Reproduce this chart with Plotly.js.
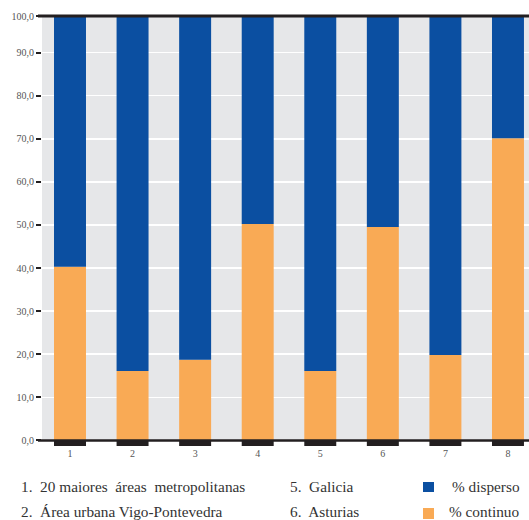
<!DOCTYPE html>
<html>
<head>
<meta charset="utf-8">
<script src="https://cdn.plot.ly/plotly-3.0.1.min.js"></script>
<style>html,body{margin:0;padding:0;background:#fff;}#chart{width:529px;height:520px;}</style>
</head>
<body>
<div id="chart"></div>
<script>
// Data
var categories = [1, 2, 3, 4, 5, 6, 7, 8];
var categoryLabels = ['1', '2', '3', '4', '5', '6', '7', '8'];
var continuo = [40.3, 16.1, 18.7, 50.2, 16.1, 49.5, 19.8, 70.1];
var disperso = [59.7, 83.9, 81.3, 49.8, 83.9, 50.5, 80.2, 29.9];
var baseStub = [-1.3, -1.3, -1.3, -1.3, -1.3, -1.3, -1.3, -1.3];
var yTickVals = [0, 10, 20, 30, 40, 50, 60, 70, 80, 90, 98.5];
var yTickText = ['0,0', '10,0', '20,0', '30,0', '40,0', '50,0', '60,0', '70,0', '80,0', '90,0', '100,0'];
var seriesNames = ['% disperso', '% continuo'];
var notes = ['1.  20 maiores  áreas  metropolitanas', '2.  Área urbana Vigo-Pontevedra', '5.  Galicia', '6.  Asturias'];

var BLUE = '#0b4fa1', ORANGE = '#f9aa55', DARK = '#231f20', BG = '#e6e7e9';
var FONT = 'Liberation Serif';

// pixel helpers for paper coords (plot area: x 42..529, y 16..446)
function px(x) { return (x - 42) / 487; }
function py(y) { return (446 - y) / 430; }

var traces = [
  { type: 'bar', x: categories, y: continuo, name: seriesNames[1], marker: { color: ORANGE }, width: 0.511, hoverinfo: 'y' },
  { type: 'bar', x: categories, y: disperso, name: seriesNames[0], marker: { color: BLUE }, width: 0.511, hoverinfo: 'y' },
  { type: 'bar', x: categories, y: baseStub, name: 'base', marker: { color: DARK }, width: 0.511, hoverinfo: 'skip' }
];

function note(text, x, y) {
  return { text: text, xref: 'paper', yref: 'paper', x: px(x), y: py(y), xanchor: 'left', yanchor: 'middle', showarrow: false, font: { family: FONT, size: 15.3, color: '#333333' } };
}

var layout = {
  width: 529, height: 520,
  margin: { l: 42, r: 0, t: 16, b: 74, pad: 0 },
  paper_bgcolor: '#ffffff',
  plot_bgcolor: '#ffffff',
  barmode: 'relative',
  showlegend: false,
  font: { family: FONT, color: '#333333' },
  xaxis: {
    range: [0.5525, 8.336],
    tickvals: categories, ticktext: categoryLabels,
    showgrid: false, zeroline: false, showline: false, ticks: '',
    tickfont: { family: FONT, size: 10, color: '#555555' },
    fixedrange: true
  },
  yaxis: {
    range: [-1.3, 98.5],
    tickvals: yTickVals, ticktext: yTickText,
    showgrid: true, gridcolor: '#ffffff', gridwidth: 1.5,
    zeroline: false, showline: false,
    ticks: 'outside', ticklen: 5, tickwidth: 2, tickcolor: DARK,
    tickfont: { family: FONT, size: 10, color: '#555555' },
    fixedrange: true
  },
  shapes: [
    { type: 'rect', layer: 'below', xref: 'paper', yref: 'y', x0: 0, x1: 1, y0: 0, y1: 98.5, fillcolor: BG, line: { width: 0 } },
    { type: 'line', layer: 'above', xref: 'paper', yref: 'y', x0: px(38), x1: 1, y0: 0, y1: 0, line: { color: DARK, width: 2.5 } },
    { type: 'line', layer: 'above', xref: 'paper', yref: 'paper', x0: px(38), x1: 1, y0: 1, y1: 1, line: { color: DARK, width: 3 } },
    { type: 'rect', xref: 'paper', yref: 'paper', x0: px(423), x1: px(434), y0: py(492), y1: py(482), fillcolor: BLUE, line: { width: 0 } },
    { type: 'rect', xref: 'paper', yref: 'paper', x0: px(423), x1: px(434), y0: py(519), y1: py(508), fillcolor: ORANGE, line: { width: 0 } }
  ],
  annotations: [
    note(notes[0], 19, 486),
    note(notes[1], 19, 511),
    note(notes[2], 288, 486),
    note(notes[3], 288, 511),
    note(seriesNames[0], 450, 486),
    note(seriesNames[1], 447, 511)
  ]
};

Plotly.newPlot('chart', traces, layout, { displayModeBar: false, staticPlot: true });
</script>
</body>
</html>
